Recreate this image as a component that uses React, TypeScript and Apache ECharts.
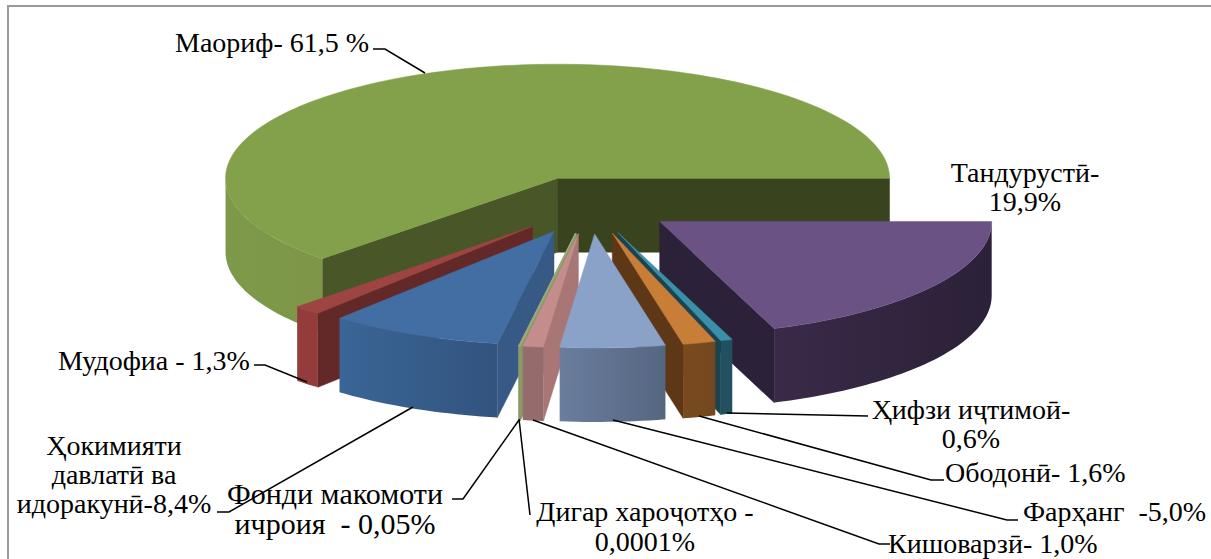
import React, { useEffect, useRef } from "react";
import * as echarts from "echarts";

// Slice data, clockwise from the 3 o'clock position
const sliceNames = ["Тандурустӣ", "Ҳифзи иҷтимоӣ", "Ободонӣ", "Фарҳанг", "Кишоварзӣ", "Дигар хароҷотҳо", "Фонди макомоти ичроия", "Ҳокимияти давлатӣ ва идоракунӣ", "Мудофиа", "Маориф"];
// Shares as the slices are actually drawn in the picture (the printed labels differ slightly)
const sliceValues = [19.4, 0.58, 1.6, 5.1, 1.0, 0.0001, 0.05, 8.45, 1.35, 62.47];

// Painter's order (index of slice -> rank)
const paintRank = [1, 2, 3, 8, 7, 5, 6, 5, 4, 0];

const topColors = ["#6b5285", "#3a90a8", "#c97e38", "#8aa1c8", "#c48c8b", "#b9bcc8", "#9aa87a", "#426ea3", "#9c4543", "#83a04a"];
const wallFrom = ["#3a2a48", "#215060", "#7a4a1e", "#6a7d9e", "#956b6c", "#a0a0a8", "#8a9868", "#3a6596", "#943c3c", "#7c9a49"];
const wallTo = ["#2b2138", "#215060", "#74481f", "#556680", "#956b6c", "#a0a0a8", "#8a9868", "#32547e", "#943c3c", "#7f9548"];
const edgeColors = ["#2b2138", "#1c4350", "#5d3716", "#556680", "#a87675", "#a0a0a8", "#8a9868", "#365a85", "#632828", "#485628"];
const endEdgeColors = ["#2b2138", "#1c4350", "#5d3716", "#556680", "#a87675", "#a0a0a8", "#8a9868", "#365a85", "#632828", "#39441e"];

const pie = { cx: 590, cy: 205, rx: 332, ry: 114, depth: 74, explodeX: 85, explodeY: 29 };

const labels = [
  { text: "Маориф- 61,5 %", x: 175, y: 42, align: "left", size: 28, lh: 29 },
  { text: "Тандурустӣ-\n19,9%", x: 1025, y: 187, align: "center", size: 28, lh: 29 },
  { text: "Ҳифзи иҷтимоӣ-\n0,6%", x: 971, y: 424, align: "center", size: 28, lh: 29 },
  { text: "Ободонӣ- 1,6%", x: 945, y: 472, align: "left", size: 28, lh: 29 },
  { text: "Фарҳанг  -5,0%", x: 1023, y: 511, align: "left", size: 28, lh: 29 },
  { text: "Кишоварзӣ- 1,0%", x: 888, y: 543, align: "left", size: 28, lh: 29 },
  { text: "Дигар хароҷотҳо -\n0,0001%", x: 645, y: 526, align: "center", size: 28, lh: 30 },
  { text: "Фонди макомоти\nичроия  - 0,05%", x: 335, y: 508, align: "center", size: 30, lh: 30 },
  { text: "Ҳокимияти\nдавлатӣ ва\nидоракунӣ-8,4%", x: 114, y: 474, align: "center", size: 28, lh: 29 },
  { text: "Мудофиа - 1,3%", x: 58, y: 360, align: "left", size: 28, lh: 29 },
];

const leaders = [
  [[373, 49], [385, 49], [425, 73]],
  [[727, 413], [868, 416]],
  [[699, 416], [931, 480], [944, 480]],
  [[613, 420], [1007, 520], [1018, 520]],
  [[533, 420], [879, 544], [890, 544]],
  [[519, 419], [530, 515]],
  [[519, 420], [463, 499], [452, 499]],
  [[413, 407], [229, 512], [217, 512]],
  [[307, 382], [265, 365], [254, 365]],
];

const rad = (d: number) => (d * Math.PI) / 180;

function sliceAngles() {
  const total = sliceValues.reduce((a, b) => a + b, 0);
  let acc = 0;
  return sliceValues.map((v) => {
    const a0 = acc;
    acc += (v / total) * 360;
    return [a0, acc];
  });
}

function renderSlice(params: any, api: any) {
  const i = params.dataIndex;
  const [a0, a1] = sliceAngles()[i];
  const mid = (a0 + a1) / 2;
  const ax = pie.cx + pie.explodeX * Math.cos(rad(mid));
  const ay = pie.cy + pie.explodeY * Math.sin(rad(mid));
  const pt = (a: number, dz = 0) => [ax + pie.rx * Math.cos(rad(a)), ay + pie.ry * Math.sin(rad(a)) + dz];
  const arc = (s: number, e: number, dz = 0) => {
    const n = Math.max(2, Math.ceil(Math.abs(e - s) / 1.5));
    return Array.from({ length: n + 1 }, (_, k) => pt(s + ((e - s) * k) / n, dz));
  };
  const base = paintRank[i] * 10;
  const kids: any[] = [];
  const thin = api.value(0) < 0.5;
  const poly = (points: number[][], fill: any, z: number) =>
    kids.push({
      type: "polygon",
      shape: { points },
      style: { fill, stroke: thin ? fill : fill instanceof echarts.graphic.LinearGradient ? "none" : fill, lineWidth: thin ? 1.5 : 0.5 },
      z2: base + z,
      silent: true,
    });
  const A = [ax, ay];
  const Ad = [ax, ay + pie.depth];
  // radial walls
  if (Math.cos(rad(a0)) < 0) poly([A, pt(a0), pt(a0, pie.depth), Ad], edgeColors[i], 1);
  if (Math.cos(rad(a1)) > 0) poly([A, pt(a1), pt(a1, pie.depth), Ad], endEdgeColors[i], 1);
  // outer wall: only the front half of the rim shows
  const s = Math.max(a0, 0);
  const e = Math.min(a1, 180);
  if (e > s) {
    const front = arc(s, e);
    const back = arc(s, e, pie.depth).reverse();
    const grad = new echarts.graphic.LinearGradient(0, 0, 1, 0, [
      { offset: 0, color: wallFrom[i] },
      { offset: 1, color: wallTo[i] },
    ]);
    poly(front.concat(back), grad, 2);
  }
  // top face
  poly([A].concat(arc(a0, a1)), topColors[i], 3);
  return { type: "group", children: kids };
}

export default function App() {
  const ref = useRef<HTMLDivElement>(null);
  useEffect(() => {
    const chart = echarts.init(ref.current!, undefined, { renderer: "svg" });
    chart.setOption({
      animation: false,
      backgroundColor: "#fff",
      graphic: {
        elements: [
          { type: "rect", z: 0, silent: true, shape: { x: 8, y: 6, width: 1300, height: 700 }, style: { fill: "none", stroke: "#9a9a9a", lineWidth: 2 } },
          ...leaders.map((points) => ({
            type: "polyline",
            z: 20,
            silent: true,
            shape: { points },
            style: { fill: "none", stroke: "#000", lineWidth: 1.5 },
          })),
          ...labels.map((l) => ({
            type: "text",
            z: 21,
            silent: true,
            x: l.x,
            y: l.y,
            style: { legacy: false, text: l.text, fontFamily: "Liberation Serif", fontSize: l.size, fill: "#000", align: l.align, verticalAlign: "middle", lineHeight: l.lh },
          })),
        ],
      },
      series: [
        {
          type: "custom",
          coordinateSystem: "none",
          renderItem: renderSlice,
          data: sliceValues.map((v, i) => ({ name: sliceNames[i], value: [v] })),
          z: 5,
        },
      ],
    });
    return () => chart.dispose();
  }, []);
  return <div ref={ref} style={{ position: "absolute", left: 0, top: 0, width: 1211, height: 559 }} />;
}
